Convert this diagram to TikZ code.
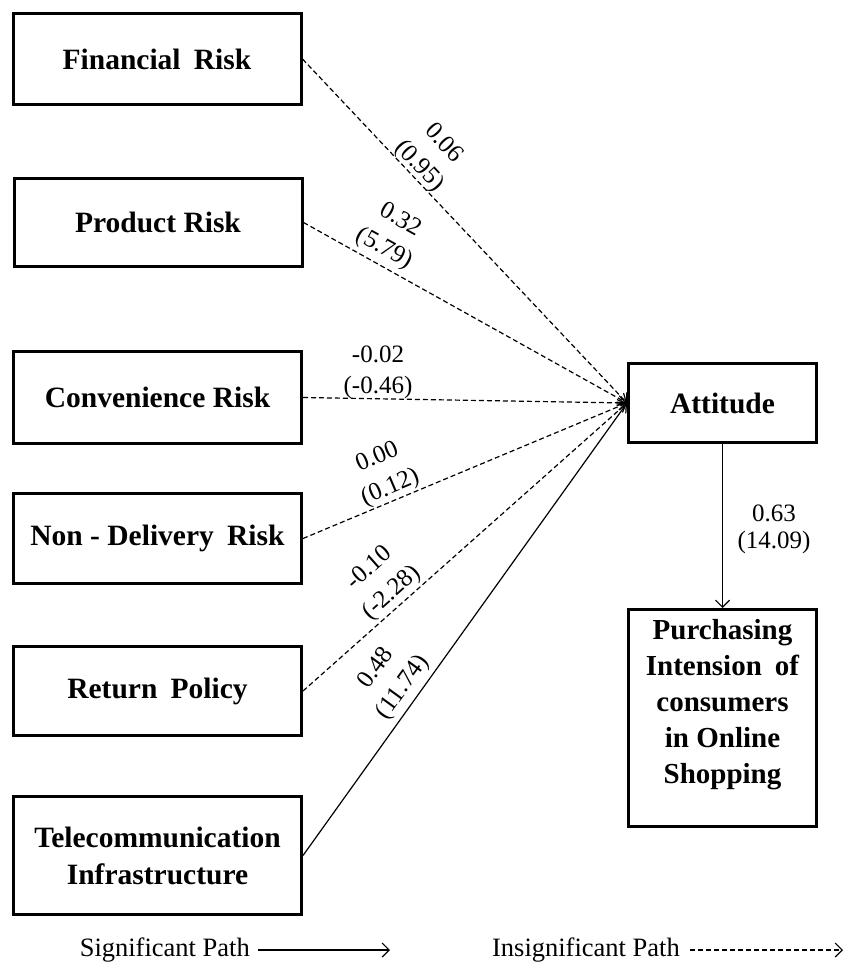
\documentclass[tikz,border=0pt]{standalone}
\usepackage{fontspec}
\setmainfont{Liberation Serif}
\usetikzlibrary{arrows.meta,positioning}
\newcommand\dsp{\hspace{0.45em}}
\tikzset{
  box/.style={draw, line width=3pt, minimum width=288pt, inner sep=0pt, align=center,
    font=\fontsize{29.5}{37}\selectfont\bfseries},
  rbox/.style={draw, line width=3pt, minimum width=188pt, inner sep=0pt, align=center,
    font=\fontsize{29.5}{37}\selectfont\bfseries},
  lbl/.style={align=center, inner sep=0pt, font=\fontsize{25}{33}\selectfont},
  lblt/.style={align=center, inner sep=0pt, font=\fontsize{25}{27}\selectfont},
  sig/.style={line width=1.2pt, -{Straight Barb[length=7pt,width=14pt,line width=1.2pt]}},
  insig/.style={sig, dash pattern=on 5pt off 3pt},
}
\begin{document}
\begin{tikzpicture}[x=1pt,y=-1pt]
\useasboundingbox (0,0) rectangle (845,964);
% left boxes
\node[box, minimum height=91pt] (fin) at (157,59) {Financial\dsp Risk};
\node[box, minimum height=88pt] (prod) at (158,222.5) {Product Risk};
\node[box, minimum height=92pt] (conv) at (157.5,397.5) {Convenience Risk};
\node[box, minimum height=90pt] (nond) at (157.5,538.5) {Non - Delivery\dsp Risk};
\node[box, minimum height=89pt] (ret) at (157.5,691) {Return\dsp Policy};
\node[box, minimum height=118pt] (tel) at (157.5,855.5) {Telecommunication\\Infrastructure};
% right boxes
\node[rbox, minimum height=79pt] (att) at (722.5,403) {Attitude};
\node[rbox, minimum height=217pt] (pur) at (722.5,718) {};
\node[align=center, inner sep=0pt, anchor=north, font=\fontsize{29}{36}\selectfont\bfseries]
  (purtxt) at (722.5,619) {Purchasing\\Intension\dsp of\\consumers\\in Online\\Shopping};
% connectors
\draw[insig] (fin.east) -- (att.west);
\draw[insig] (prod.east) -- (att.west);
\draw[insig] (conv.east) -- (att.west);
\draw[insig] (nond.east) -- (att.west);
\draw[insig] (ret.east) -- (att.west);
\draw[sig] (tel.east) -- (att.west);
\draw[sig] (att.south) -- (pur.north);
% labels
\node[lbl, rotate=-47] (lfin) at (431,155) {0.06\\(0.95)};
\node[lbl, rotate=-29] (lprod) at (392,235) {0.32\\(5.79)};
\node[lbl, font=\fontsize{25}{31}\selectfont] (lconv) at (378,372) {-0.02\\(-0.46)};
\node[lbl, rotate=23] (lnond) at (384,473) {0.00\\(0.12)};
\node[lbl, rotate=41.6] (lret) at (381,581) {-0.10\\(-2.28)};
\node[lbl, rotate=54] (ltel) at (390,678) {0.48\\(11.74)};
\node[lblt] (latt) at (774,529) {0.63\\(14.09)};
% legend
\node[lblt, anchor=east, font=\fontsize{26.5}{27}\selectfont] (sigtxt) at (250,950) {Significant Path};
\coordinate (sa) at (258,950);
\coordinate (sb) at (390,950);
\draw[sig] (sa) -- (sb);
\node[lblt, anchor=east, font=\fontsize{26.5}{27}\selectfont] (insigtxt) at (680,950) {Insignificant Path};
\coordinate (ia) at (690,950);
\coordinate (ib) at (843,950);
\draw[insig] (ia) -- (ib);
\end{tikzpicture}
\end{document}
